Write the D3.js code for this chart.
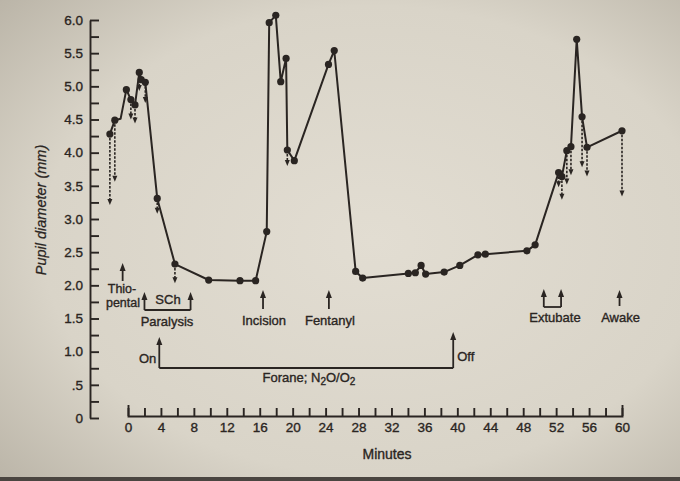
<!DOCTYPE html>
<html>
<head>
<meta charset="utf-8">
<script src="https://cdn.jsdelivr.net/npm/d3@7"></script>
<style>
  html, body { margin: 0; padding: 0; background: #d8d3c7; }
  svg { display: block; }
  text { font-family: "Liberation Sans", Arial, sans-serif; fill: #2a2522; stroke: #2a2522; stroke-width: 0.35px; }
</style>
</head>
<body>
<svg width="680" height="481"></svg>
<script>
// minutes and pupil diameter (mm)
const times = [-2.2, -1.6, -0.9, -0.2, 0.35, 0.85, 1.37, 1.6, 2.1, 3.55, 5.7, 9.8, 13.6, 15.5,
    16.85, 17.15, 17.95, 18.55, 19.2, 19.35, 20.2, 24.35, 25.05, 27.65, 28.5, 34.05, 34.9,
    35.6, 36.15, 38.4, 40.3, 42.5, 43.4, 48.45, 49.45, 52.3, 52.7, 53.3, 53.8, 54.5, 55.15,
    55.75, 60.0];
const diameters = [4.28, 4.49, 4.51, 4.95, 4.80, 4.72, 5.21, 5.10, 5.06, 3.31, 2.32, 2.08, 2.07, 2.07,
    2.81, 5.96, 6.07, 5.07, 5.42, 4.04, 3.88, 5.33, 5.54, 2.21, 2.11, 2.18, 2.19,
    2.30, 2.17, 2.20, 2.30, 2.46, 2.47, 2.52, 2.61, 3.70, 3.64, 4.03, 4.09, 5.71, 4.54,
    4.08, 4.33];
// vertex without a dot
const noDot = [-0.9];

// dashed arrows (minute, from mm, to mm)
const dropTimes = [-2.2, -1.6, 0.35, 0.85, 1.37, 2.1, 3.55, 5.7, 19.35, 52.3, 52.7, 53.3, 53.8, 55.15, 55.75, 60.0];
const dropFrom = [4.28, 4.49, 4.80, 4.72, 5.10, 5.06, 3.31, 2.32, 4.04, 3.70, 3.64, 4.03, 4.09, 4.54, 4.08, 4.33];
const dropTo = [3.21, 3.56, 4.50, 4.44, 4.93, 4.75, 3.08, 2.03, 3.80, 3.48, 3.29, 3.52, 3.66, 3.78, 3.64, 3.34];

// events
const eventNames = ['Incision', 'Fentanyl', 'Awake'];
const eventTimes = [16.4, 24.4, 59.7];
const thiopentalTime = -0.65;
const sChTimes = [2.0, 7.6];
const extubateTimes = [50.5, 52.6];
const foraneOn = 3.8;
const foraneOff = 39.5;

const yMajor = [0, 0.5, 1, 1.5, 2, 2.5, 3, 3.5, 4, 4.5, 5, 5.5, 6];
const yLabels = ['0', '.5', '1.0', '1.5', '2.0', '2.5', '3.0', '3.5', '4.0', '4.5', '5.0', '5.5', '6.0'];
const yMinor = [0.25, 0.75, 1.25, 1.75, 2.25, 2.75, 3.25, 3.75, 4.25, 4.75, 5.25, 5.75];
const xMajor = [0, 4, 8, 12, 16, 20, 24, 28, 32, 36, 40, 44, 48, 52, 56, 60];
const xMinor = [2, 6, 10, 14, 18, 22, 26, 30, 34, 38, 42, 46, 50, 54, 58];

const ink = '#2a2522';
const svg = d3.select('svg');

// paper
const defs = svg.append('defs');
const grad = defs.append('radialGradient').attr('id', 'paper')
    .attr('cx', '55%').attr('cy', '50%').attr('r', '75%');
grad.append('stop').attr('offset', '0%').attr('stop-color', '#e2ddd2');
grad.append('stop').attr('offset', '65%').attr('stop-color', '#d9d4c8');
grad.append('stop').attr('offset', '100%').attr('stop-color', '#bab4a7');
svg.append('rect').attr('width', 680).attr('height', 481).attr('fill', 'url(#paper)');
svg.append('rect').attr('y', 477).attr('width', 680).attr('height', 4).attr('fill', '#4a4540');

const x = d3.scaleLinear().domain([0, 60]).range([128, 622]);
const y = d3.scaleLinear().domain([0, 6]).range([418, 20]);

// y axis: ticks point right, labels left
svg.append('g').attr('transform', 'translate(90,0)')
    .call(d3.axisLeft(y).tickValues(yMajor).tickSize(-9).tickSizeOuter(0).tickPadding(7)
        .tickFormat((d, i) => yLabels[i]));
svg.append('g').attr('transform', 'translate(90,0)')
    .call(d3.axisLeft(y).tickValues(yMinor).tickSize(-9).tickSizeOuter(0).tickFormat(''))
    .select('.domain').remove();

// x axis: ticks point up
svg.append('g').attr('transform', 'translate(0,416)')
    .call(d3.axisBottom(x).tickValues(xMajor).tickSize(-8).tickSizeOuter(-11).tickPadding(6));
svg.append('g').attr('transform', 'translate(0,416)')
    .call(d3.axisBottom(x).tickValues(xMinor).tickSize(-8).tickSizeOuter(0).tickFormat(''))
    .select('.domain').remove();

svg.selectAll('.domain, .tick line').attr('stroke', ink).attr('stroke-width', 1.9);
svg.selectAll('.tick text').attr('fill', ink).style('font-size', '13.5px')
    .style('font-family', '"Liberation Sans", Arial, sans-serif');

// axis titles
svg.append('text').attr('transform', 'translate(46,210) rotate(-90)')
    .attr('text-anchor', 'middle').style('font-size', '14.5px').style('font-style', 'italic')
    .style('stroke-width', '0.25px')
    .text('Pupil diameter (mm)');
svg.append('text').attr('x', 387).attr('y', 459).attr('text-anchor', 'middle')
    .style('font-size', '14px').text('Minutes');

// arrowhead helper
function head(g, cx, tipY, w, h, dir) {
    g.append('path')
        .attr('d', `M${cx},${tipY}L${cx - w / 2},${tipY - dir * h}L${cx + w / 2},${tipY - dir * h}Z`)
        .attr('fill', ink);
}

// dashed drops
const drops = svg.append('g');
dropTimes.forEach((t, i) => {
    const cx = x(t), y0 = y(dropFrom[i]), y1 = y(dropTo[i]);
    drops.append('line').attr('x1', cx).attr('x2', cx).attr('y1', y0).attr('y2', y1 - 4)
        .attr('stroke', ink).attr('stroke-width', 1.6).attr('stroke-dasharray', '2.5,1.5');
    head(drops, cx, y1, 5, 6, 1);
});

// line + dots
const pts = times.map((t, i) => ({ t, v: diameters[i] }));
const line = d3.line().x((d) => x(d.t)).y((d) => y(d.v));
svg.append('path').attr('d', line(pts)).attr('fill', 'none')
    .attr('stroke', ink).attr('stroke-width', 2).attr('stroke-linejoin', 'round');
svg.append('g').selectAll('circle')
    .data(pts.filter((d) => !noDot.includes(d.t)))
    .join('circle')
    .attr('cx', (d) => x(d.t)).attr('cy', (d) => y(d.v)).attr('r', 3.6).attr('fill', ink);

// event arrows
const ev = svg.append('g');
function upArrow(t, tipY, tailY) {
    const cx = x(t);
    ev.append('line').attr('x1', cx).attr('x2', cx).attr('y1', tailY).attr('y2', tipY + 6)
        .attr('stroke', ink).attr('stroke-width', 1.8);
    head(ev, cx, tipY, 6, 8, -1);
}
function label(tx, ty, str, anchor, size) {
    return ev.append('text').attr('x', tx).attr('y', ty).attr('text-anchor', anchor || 'middle')
        .style('font-size', (size || 13) + 'px').text(str);
}

upArrow(thiopentalTime, 263, 281);
label(122, 293, 'Thio-', 'middle', 12.5);
label(123, 307, 'pental', 'middle', 12.5);

sChTimes.forEach((t) => upArrow(t, 292, 310));
ev.append('line').attr('x1', x(sChTimes[0])).attr('x2', x(sChTimes[1]))
    .attr('y1', 310).attr('y2', 310).attr('stroke', ink).attr('stroke-width', 1.8);
label(168, 304, 'SCh');
label(167, 326, 'Paralysis');

eventTimes.forEach((t, i) => {
    const last = eventNames[i] === 'Awake';
    upArrow(t, 290, last ? 306 : 309);
    label(x(t) + 1, last ? 322 : 325, eventNames[i]);
});

extubateTimes.forEach((t) => upArrow(t, 289, 307));
ev.append('line').attr('x1', x(extubateTimes[0])).attr('x2', x(extubateTimes[1]))
    .attr('y1', 307).attr('y2', 307).attr('stroke', ink).attr('stroke-width', 1.8);
label(555, 322, 'Extubate');

// Forane bracket
upArrow(foraneOn, 337, 368);
upArrow(foraneOff, 332, 368);
ev.append('line').attr('x1', x(foraneOn)).attr('x2', x(foraneOff))
    .attr('y1', 368).attr('y2', 368).attr('stroke', ink).attr('stroke-width', 1.8);
label(x(foraneOn) - 3, 363, 'On', 'end');
label(x(foraneOff) + 4, 361, 'Off', 'start');
const fo = label(309, 382, 'Forane; N');
fo.append('tspan').attr('dy', 3).style('font-size', '10px').text('2');
fo.append('tspan').attr('dy', -3).text('O/O');
fo.append('tspan').attr('dy', 3).style('font-size', '10px').text('2');
</script>
</body>
</html>
